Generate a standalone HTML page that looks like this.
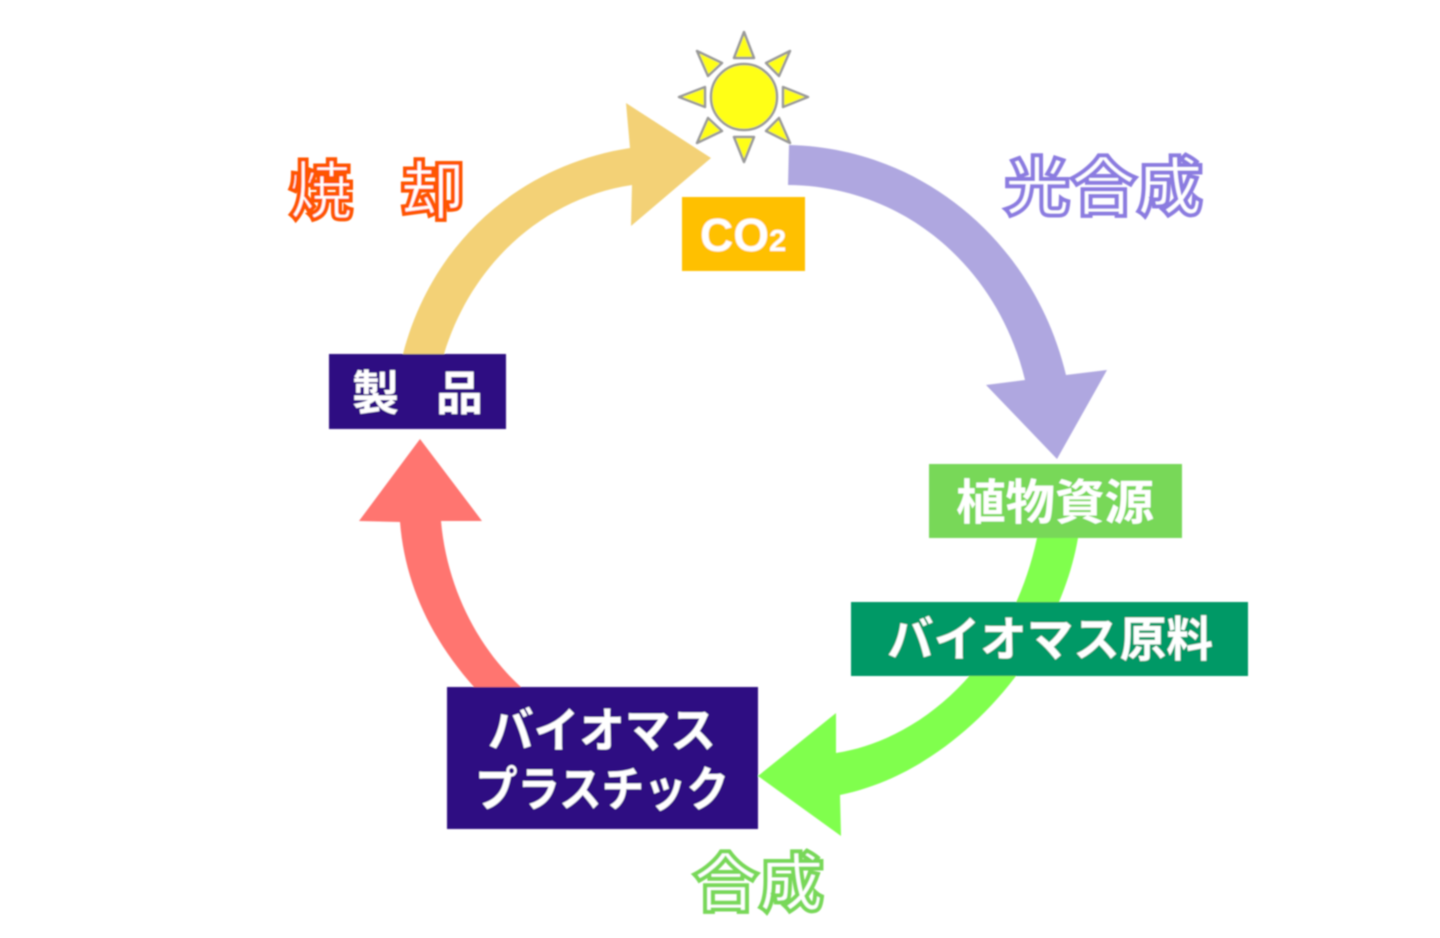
<!DOCTYPE html>
<html lang="ja"><head><meta charset="utf-8"><title>バイオマスプラスチックの循環</title>
<style>
html,body{margin:0;padding:0;background:#fff;width:1440px;height:938px;overflow:hidden}
svg{display:block}
text{font-family:"Liberation Sans","Noto Sans CJK JP",sans-serif}
.w{fill:#fff;font-weight:700;font-size:48px;text-anchor:middle}
.o{fill:#fff;font-weight:700;font-size:64px;stroke-width:4px}
</style></head><body>
<svg width="1440" height="938" viewBox="0 0 1440 938" xmlns="http://www.w3.org/2000/svg">
<defs><filter id="b" x="-5%" y="-5%" width="110%" height="110%"><feGaussianBlur stdDeviation="0.8"/></filter></defs>
<g filter="url(#b)">
<!-- arrows -->
<path fill="#F3D176" d="M403 354 C432 242 520 165 630 148 L626 103 L711 158 L631 226 L632 185 C545 198 472 262 444 354 Z"/>
<path fill="#AFA7E0" d="M789 145 C925 148 1035 245 1066 375 L1107 370 L1057 459 L986 385 L1025 380 C998 268 905 186 788 185 Z"/>
<path fill="#80FF4E" d="M1078 538 C1058 655 955 772 840 795 L841 836 L758 776 L836 713 L836 753 C930 738 1012 655 1037 538 Z"/>
<path fill="#FF7570" d="M521 687 L474 687 C432 640 405 585 400 522 L359 521 L420 439 L482 521 L441 521 C447 590 480 650 521 687 Z"/>
<!-- sun -->
<g fill="#FFFF19" stroke="#999" stroke-width="2.5" stroke-linejoin="round">
<circle cx="744" cy="97" r="33"/>
<polygon points="744,32 734,58 754,58"/>
<polygon points="744,162 734,137 754,137"/>
<polygon points="679,97 705,87 705,107"/>
<polygon points="808,97 783,87 783,107"/>
<polygon points="697,51 722,63 708,76"/>
<polygon points="790,51 766,63 779,76"/>
<polygon points="697,143 722,131 708,118"/>
<polygon points="790,143 766,131 779,118"/>
</g>
<!-- boxes -->
<rect x="682" y="197" width="123" height="74" fill="#FFC000"/>
<rect x="329" y="354" width="177" height="75" fill="#2E0A82"/>
<rect x="929" y="464" width="253" height="74" fill="#78D858"/>
<rect x="851" y="602" width="397" height="74" fill="#009966"/>
<rect x="447" y="687" width="311" height="142" fill="#2E0A82"/>
<!-- box labels -->
<text x="700" y="251" fill="#fff" font-weight="700" font-size="46">CO<tspan font-size="31">2</tspan></text>
<text x="352" y="410" fill="#fff" font-weight="700" font-size="47">製</text>
<text x="436" y="410" fill="#fff" font-weight="700" font-size="47">品</text>
<text class="w" x="1055" y="519" textLength="198" lengthAdjust="spacingAndGlyphs">植物資源</text>
<text class="w" x="1050" y="656" textLength="326" lengthAdjust="spacingAndGlyphs">バイオマス原料</text>
<text class="w" x="602" y="747" textLength="228" lengthAdjust="spacingAndGlyphs">バイオマス</text>
<text class="w" x="602" y="806" textLength="254" lengthAdjust="spacingAndGlyphs">プラスチック</text>
<!-- outlined labels -->
<text class="o" x="289" y="214" stroke="#FF5500">焼</text>
<text class="o" x="401" y="214" stroke="#FF5500">却</text>
<text class="o" x="1004" y="210" stroke="#8B7BE0" textLength="199" lengthAdjust="spacingAndGlyphs">光合成</text>
<text class="o" x="693" y="906" stroke="#78D858" textLength="131" lengthAdjust="spacingAndGlyphs">合成</text>
</g>
</svg>
</body></html>
